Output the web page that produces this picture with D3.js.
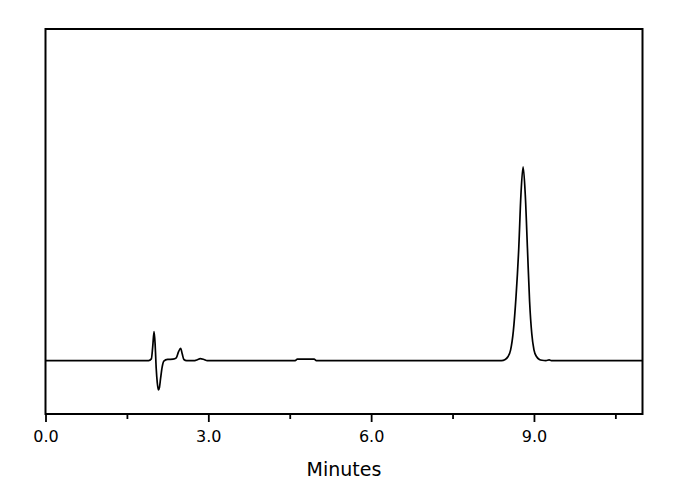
<!DOCTYPE html>
<html>
<head>
<meta charset="utf-8">
<script src="https://cdn.jsdelivr.net/npm/d3@7/dist/d3.min.js"></script>
<style>
  html, body { margin: 0; padding: 0; background: #fff; }
  svg { display: block; }
  text { font-family: "DejaVu Sans", "Liberation Sans", Arial, sans-serif; fill: #000; }
</style>
</head>
<body>
<svg id="chart" width="690" height="490"></svg>
<script>
// Chromatogram trace: retention time (min) and detector signal (arbitrary units)
const times = [
  0, 1.0, 1.9, 1.95, 1.975, 2.0, 2.02, 2.04, 2.06, 2.08, 2.1, 2.12, 2.15, 2.18,
  2.25, 2.35, 2.41, 2.45, 2.49, 2.52, 2.55, 2.6,
  2.75, 2.8, 2.85, 2.92, 2.98, 3.5,
  4.6, 4.64, 4.95, 4.99, 6.0, 7.5,
  8.40, 8.47, 8.52, 8.57, 8.62, 8.67, 8.72, 8.76, 8.80, 8.84, 8.88, 8.92, 8.96,
  9.00, 9.05, 9.10, 9.15, 9.22, 9.28, 9.32, 9.4, 10.0, 11.0
];
const signal = [
  0, 0, 0, 0.3, 2.5, 5.4, 3.0, -1.5, -4.2, -5.5, -5.0, -3.4, -1.2, -0.1,
  0.2, 0.25, 0.5, 1.6, 2.3, 1.2, 0.2, 0,
  0, 0.15, 0.35, 0.2, 0, 0,
  0, 0.25, 0.25, 0, 0, 0,
  0, 0.2, 0.7, 2.0, 5.5, 12.0, 21.0, 31.0, 36.2, 31.0, 21.0, 11.0, 5.0,
  2.0, 0.7, 0.2, 0.05, 0, 0.12, 0, 0, 0, 0
];
const majorTicks = [0, 3, 6, 9];
const minorTicks = [1.5, 4.5, 7.5, 10.5];
const xLabel = "Minutes";

const svg = d3.select("#chart");
const mLeft = 45.5, mRight = 642.5, mTop = 29, mBottom = 414;

const x = d3.scaleLinear().domain([0, 11]).range([mLeft, mRight]);
const y = d3.scaleLinear().domain([-10, 62]).range([mBottom, mTop]);

const data = times.map((t, i) => ({ t, v: signal[i] }));

// trace
svg.append("path")
  .datum(data)
  .attr("fill", "none")
  .attr("stroke", "#000")
  .attr("stroke-width", 1.7)
  .attr("stroke-linejoin", "round")
  .attr("d", d3.line().x(d => x(d.t)).y(d => y(d.v)).curve(d3.curveMonotoneX));

// major ticks + labels
const gMajor = svg.append("g")
  .attr("transform", `translate(0,${mBottom})`)
  .call(d3.axisBottom(x).tickValues(majorTicks).tickSize(8).tickSizeOuter(0)
    .tickFormat(d3.format(".1f")));
gMajor.select(".domain").remove();
gMajor.attr("font-family", null).attr("font-size", null);
gMajor.selectAll(".tick line").attr("stroke", "#000").attr("stroke-width", 1.8);
gMajor.selectAll(".tick text")
  .style("font-size", "16px")
  .attr("dy", null)
  .attr("y", 28);

// minor ticks
const gMinor = svg.append("g")
  .attr("transform", `translate(0,${mBottom})`)
  .call(d3.axisBottom(x).tickValues(minorTicks).tickSize(5).tickSizeOuter(0).tickFormat(""));
gMinor.select(".domain").remove();
gMinor.selectAll(".tick line").attr("stroke", "#000").attr("stroke-width", 1.8);

// frame
svg.append("rect")
  .attr("x", mLeft).attr("y", mTop)
  .attr("width", mRight - mLeft).attr("height", mBottom - mTop)
  .attr("fill", "none").attr("stroke", "#000").attr("stroke-width", 2);

// axis title
svg.append("text")
  .attr("x", (mLeft + mRight) / 2)
  .attr("y", 476)
  .attr("text-anchor", "middle")
  .style("font-size", "19px")
  .text(xLabel);
</script>
</body>
</html>
